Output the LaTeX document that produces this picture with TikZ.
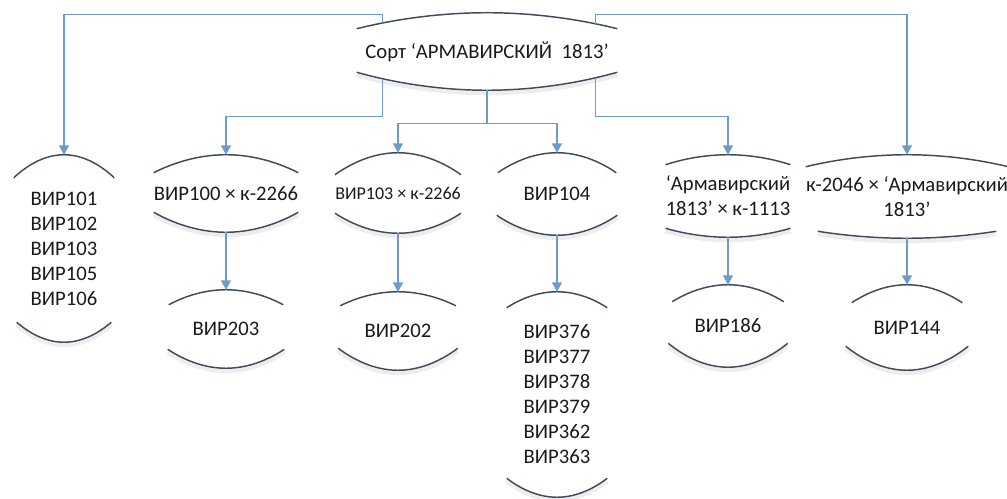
\documentclass[tikz,border=0pt]{standalone}
\usepackage{fontspec}
\setmainfont{Carlito}
\usetikzlibrary{calc,arrows.meta}
\definecolor{connc}{HTML}{6E9BCB}
\definecolor{arcc}{HTML}{3F4B5B}
\definecolor{txtc}{HTML}{1A1A1A}
\newcommand\lensarcs[5]{%
  \draw[lensshadow] ($(#1.south west)+(#5,-#3+3)$) parabola bend ($(#1.south)+(0,3)$) ($(#1.south east)+(-#5,-#3+3)$);
  \draw[lensarc] ($(#1.north west)+(#4,#2)$) parabola bend (#1.north) ($(#1.north east)+(-#4,#2)$);
  \draw[lensarc] ($(#1.south west)+(#5,-#3)$) parabola bend (#1.south) ($(#1.south east)+(-#5,-#3)$);
}
\tikzset{
  lens/.style 2 args={draw=none, inner sep=0pt, align=center, text=txtc,
    font=\fontsize{15.5}{18.75}\selectfont,
    minimum width=#1*0.75pt, minimum height=#2*0.75pt},
  lensarc/.style={draw=arcc, line width=1.1pt},
  lensshadow/.style={draw=black!7, line width=3pt},
  conn/.style={draw=connc, line width=1.1pt, -{Triangle[length=7pt,width=7.5pt]}},
}
\begin{document}
\begin{tikzpicture}[x=0.75pt, y=-0.75pt]
\useasboundingbox (0,0) rectangle (1007,499);
% nodes
\node[lens={260}{77}] (T) at (487,51.5) {Сорт ‘АРМАВИРСКИЙ\ \ 1813’};
\node[lens={100}{187}] (A) at (64,248.5) {ВИР101\\ВИР102\\ВИР103\\ВИР105\\ВИР106};
\node[lens={122}{77}] (B) at (226,193.5) {ВИР100 × к-2266};
\node[lens={120}{80}, font=\fontsize{13.5}{16}\selectfont] (C) at (398,193) {ВИР103 × к-2266};
\node[lens={120}{82}] (D) at (557,194) {ВИР104};
\node[lens={94}{82}] (E) at (728,196) {‘Армавирский\\1813’ × к-1113};
\node[lens={97}{83}] (F) at (907,196.5) {к-2046 × ‘Армавирский\\1813’};
\node[lens={116}{78}] (B2) at (226,329) {ВИР203};
\node[lens={119}{78}] (C2) at (398,331) {ВИР202};
\node[lens={100}{205}] (D2) at (557,394.5) {ВИР376\\ВИР377\\ВИР378\\ВИР379\\ВИР362\\ВИР363};
\node[lens={119}{82}] (E2) at (728,326) {ВИР186};
\node[lens={122}{85}] (F2) at (907,327.5) {ВИР144};
% arcs
\lensarcs{T}{16}{18}{0}{0}
\lensarcs{A}{23}{20}{0}{3}
\lensarcs{B}{18}{20}{0}{0}
\lensarcs{C}{22}{20}{0}{0}
\lensarcs{D}{20}{20}{1}{0}
\lensarcs{E}{10}{9}{0}{0}
\lensarcs{F}{12}{7}{0}{12}
\lensarcs{B2}{15}{19}{1}{0}
\lensarcs{C2}{14}{22}{2}{0}
\lensarcs{D2}{16}{19}{0}{0}
\lensarcs{E2}{17}{24}{4}{0}
\lensarcs{F2}{18}{24}{6}{0}
% connectors
\draw[conn] ($(T.north west)+(26,10)$) -- ++(0,-8) -| (A.north);
\draw[conn] ($(T.north east)+(-22,11)$) -- ++(0,-9) -| (F.north);
\draw[conn] ($(T.south west)+(26,-11)$) -- ++(0,37) -| (B.north);
\draw[conn] (T.south) -- ++(0,33) -| (C.north);
\draw[conn] (T.south) -- ++(0,33) -| (D.north);
\draw[conn] ($(T.south east)+(-22,-12)$) -- ++(0,38) -| (E.north);
\draw[conn] (B.south) -- (B2.north);
\draw[conn] (C.south) -- (C2.north);
\draw[conn] (D.south) -- (D2.north);
\draw[conn] (E.south) -- (E2.north);
\draw[conn] (F.south) -- (F2.north);
\end{tikzpicture}
\end{document}
